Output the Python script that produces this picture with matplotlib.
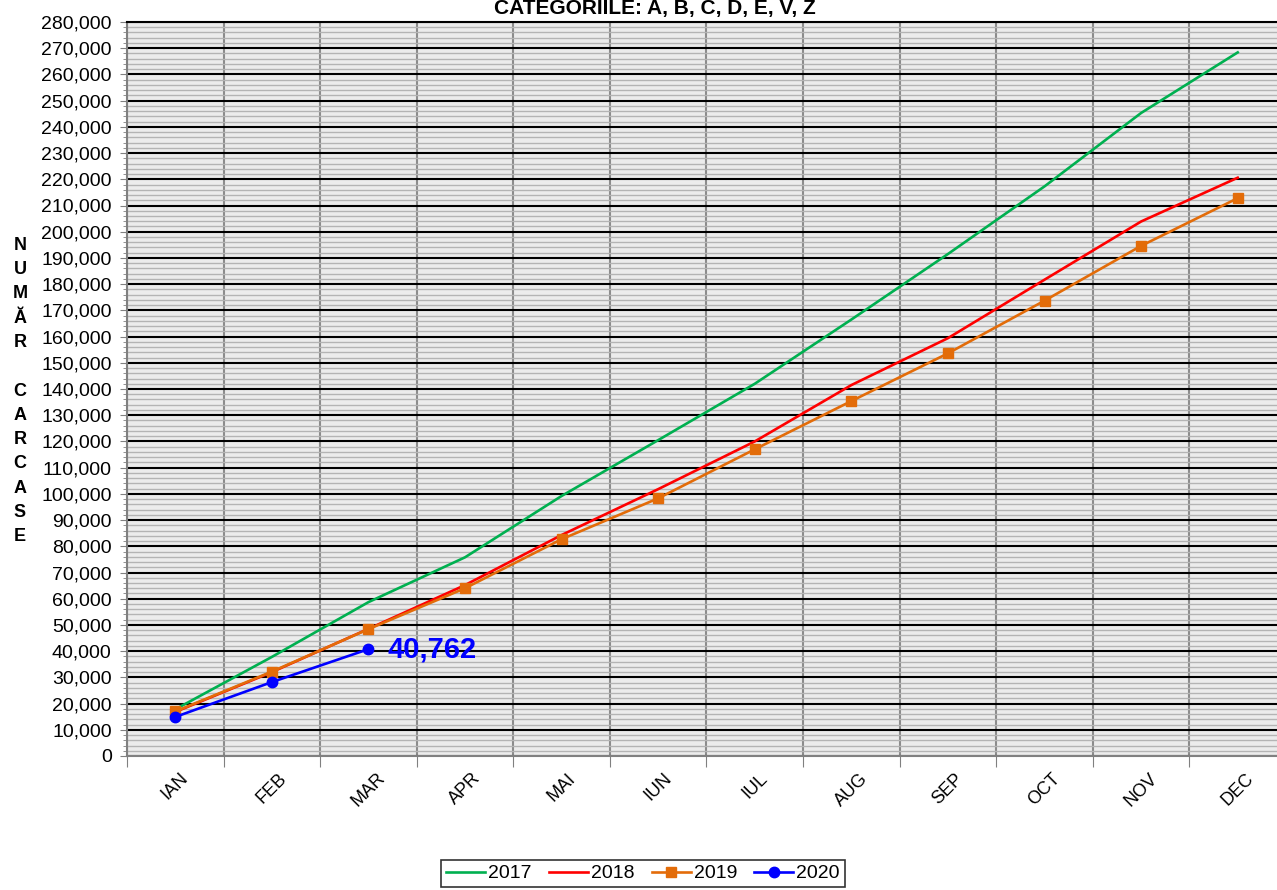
import numpy as np
import matplotlib.pyplot as plt
from matplotlib.ticker import MultipleLocator, FuncFormatter, FixedLocator

plt.rcParams['font.family'] = ['Liberation Sans', 'DejaVu Sans']

luni = ['IAN', 'FEB', 'MAR', 'APR', 'MAI', 'IUN', 'IUL', 'AUG', 'SEP', 'OCT', 'NOV', 'DEC']
v2017 = [17800, 37800, 58700, 75800, 99200, 120500, 142000, 166500, 191500, 217300, 245300, 268400]
v2018 = [16800, 32000, 48500, 65200, 84300, 101800, 120000, 141500, 159400, 181700, 203900, 220600]
v2019 = [17000, 32200, 48400, 64000, 82700, 98300, 117000, 135400, 153600, 173700, 194600, 212800]
v2020 = [14900, 28200, 40762]

fig = plt.figure(figsize=(12.77, 8.9), dpi=100)
ax = fig.add_axes([127 / 1277, 134 / 890, 1159 / 1277, 734 / 890])
ax.set_facecolor('#ececec')

x = np.arange(len(luni))
ax.plot(x, v2017, color='#00B050', lw=1.9, label='2017', zorder=5)
ax.plot(x, v2018, color='#FF0000', lw=1.9, label='2018', zorder=5)
ax.plot(x, v2019, color='#E36C09', lw=1.9, marker='s', ms=7.5, label='2019', zorder=6)
ax.plot(x[:len(v2020)], v2020, color='#0000FF', lw=1.9, marker='o', ms=7.5, label='2020', zorder=7)

ax.annotate(f'{v2020[-1]:,}', (x[len(v2020) - 1], v2020[-1]), xytext=(14, 0),
            textcoords='offset points', va='center', ha='left',
            color='#0000FF', fontsize=21, fontweight='bold', zorder=8)

ax.set_xlim(-0.5, 11.5)
ax.set_ylim(0, 280000)

# y axis
ax.yaxis.set_major_locator(MultipleLocator(10000))
ax.yaxis.set_minor_locator(MultipleLocator(2000))
ax.yaxis.set_major_formatter(FuncFormatter(lambda v, p: f'{int(v):,}'))
ax.tick_params(axis='y', which='major', labelsize=14, length=5, color='#808080', pad=6)
ax.tick_params(axis='y', which='minor', length=3, color='#808080')
ax.grid(axis='y', which='major', color='black', lw=1.5, zorder=2)
ax.grid(axis='y', which='minor', color='#b4b4b4', lw=1.0, zorder=1)

# x axis: gridlines at category boundaries, labels at centres
ax.xaxis.set_major_locator(FixedLocator(np.arange(-0.5, 12, 1)))
ax.xaxis.set_major_formatter(FuncFormatter(lambda v, p: ''))
ax.xaxis.set_minor_locator(FixedLocator(x))
ax.set_xticklabels(luni, minor=True, rotation=45, ha='center', fontsize=13)
ax.tick_params(axis='x', which='major', length=8, color='#808080')
ax.tick_params(axis='x', which='minor', length=0, pad=10)
ax.grid(axis='x', which='major', color='#8c8c8c', lw=1.5, zorder=3)
ax.set_axisbelow(True)

for s in ['left', 'bottom']:
    ax.spines[s].set_color('#808080')
    ax.spines[s].set_linewidth(1.5)
ax.spines['top'].set_color('black')
ax.spines['top'].set_linewidth(1.5)
ax.spines['right'].set_visible(False)

fig.text(20 / 1277, 1 - 391 / 890, '\n'.join('NUMĂR CARCASE'), ha='center', va='center',
         fontsize=13, fontweight='bold', linespacing=1.56)

fig.text(655 / 1277, 1 - 14 / 890, 'CATEGORIILE: A, B, C, D, E, V, Z', ha='center', va='baseline',
         fontsize=15, fontweight='bold')

leg = fig.legend(loc='upper center', bbox_to_anchor=(643 / 1277, 1 - 860 / 890), ncol=4,
                 fontsize=14, frameon=True, fancybox=False, edgecolor='black',
                 handlelength=2.0, handletextpad=0.15, columnspacing=0.9,
                 borderpad=0.25, borderaxespad=0)
leg.get_frame().set_linewidth(1.2)

fig.savefig('out.png', dpi=100)
